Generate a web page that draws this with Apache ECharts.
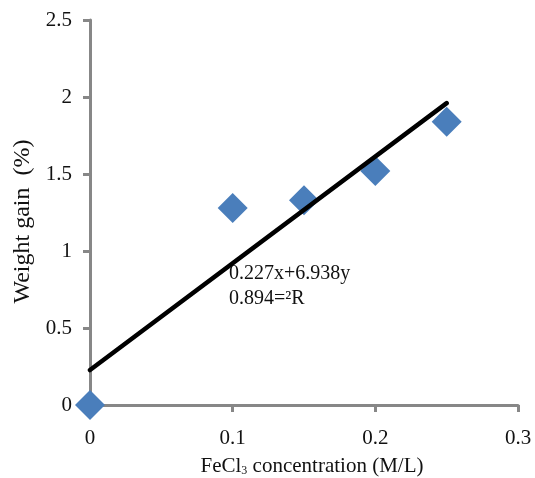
<!DOCTYPE html>
<html><head><meta charset="utf-8">
<script src="https://cdn.jsdelivr.net/npm/echarts@6/dist/echarts.min.js"></script>
<style>html,body{margin:0;padding:0;background:#fff}#c{width:535px;height:478px}</style>
</head><body><div id="c"></div>
<script>
const concentration = [0, 0.1, 0.15, 0.2, 0.25];
const weightGain = [0, 1.28, 1.33, 1.52, 1.84];
const trendX = [0, 0.25];
const trendY = [0.227, 1.96];
const xTicks = [0, 0.1, 0.2, 0.3];
const yTicks = [0, 0.5, 1, 1.5, 2, 2.5];
const eqLine1 = '0.227x+6.938y';
const eqLine2 = '0.894=²R';

const font = 'Liberation Serif, Times New Roman, serif';
const chart = echarts.init(document.getElementById('c'));
const axisCommon = {
  axisLine: {show: true, onZero: false, lineStyle: {color: '#878787', width: 3}},
  axisTick: {show: true, inside: false, length: 7, lineStyle: {color: '#878787', width: 3}},
  splitLine: {show: false},
  axisLabel: {color: '#111', fontFamily: font, fontSize: 21}
};
chart.setOption({
  animation: false,
  grid: {left: 90, top: 20, right: 17, bottom: 73, containLabel: false, outerBoundsMode: 'none'},
  xAxis: Object.assign({}, axisCommon, {
    type: 'value', min: 0, max: 0.3, interval: 0.1,
    axisLabel: Object.assign({}, axisCommon.axisLabel, {margin: 23, formatter: v => String(+v.toFixed(1))}),
    name: '{a|FeCl}{s|3}{a| concentration (M/L)}',
    nameLocation: 'middle', nameGap: 50,
    nameTextStyle: {padding: [0, 0, 0, 16], rich: {a: {fontFamily: font, fontSize: 21, color: '#111'}, s: {fontFamily: font, fontSize: 12, color: '#111', padding: [10, 0, 0, 0]}}}
  }),
  yAxis: Object.assign({}, axisCommon, {
    type: 'value', min: 0, max: 2.5, interval: 0.5,
    axisLabel: Object.assign({}, axisCommon.axisLabel, {margin: 18}),
    name: 'Weight gain  (%)', nameLocation: 'middle', nameGap: 55, nameRotate: 90,
    nameTextStyle: {fontFamily: font, fontSize: 24, color: '#111', padding: [0, 18, 0, 0]}
  }),
  series: [
    {type: 'scatter', symbol: 'diamond', symbolSize: 30, z: 2,
     itemStyle: {color: '#4a7ebb', opacity: 1},
     data: concentration.map((x, i) => [x, weightGain[i]])},
    {type: 'line', symbol: 'none', z: 3, lineStyle: {color: '#000', width: 4.5, cap: 'round'},
     data: trendX.map((x, i) => [x, trendY[i]])}
  ],
  graphic: [
    {type: 'text', left: 229, top: 264, style: {text: eqLine1, font: '20px ' + font, fill: '#111'}},
    {type: 'text', left: 229, top: 289, style: {text: eqLine2, font: '20px ' + font, fill: '#111'}}
  ]
});
</script></body></html>
